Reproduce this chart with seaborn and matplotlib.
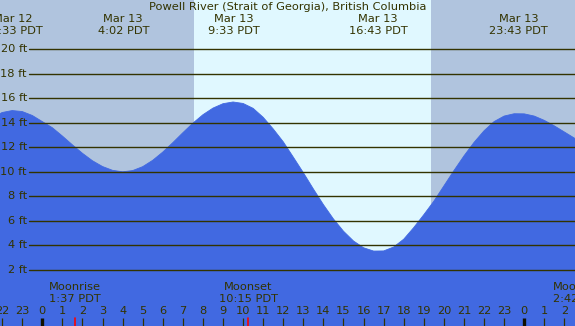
import numpy as np
import pandas as pd
import matplotlib
matplotlib.use("Agg")
import matplotlib.pyplot as plt
import matplotlib.transforms as mtransforms
import seaborn as sns

# ---------------- data ----------------
title = "Powell River (Strait of Georgia), British Columbia"

# hours relative to Mar 13 00:00 PDT, tide height in ft
hours = [-2.5, -2.0, -1.5, -1.0, -0.5, 0.0, 0.5, 1.0, 1.5, 2.0, 2.5, 3.0, 3.5,
         4.0, 4.5, 5.0, 5.5, 6.0, 6.5, 7.0, 7.5, 8.0, 8.5, 9.0, 9.5, 10.0,
         10.5, 11.0, 11.5, 12.0, 12.5, 13.0, 13.5, 14.0, 14.5, 15.0, 15.5,
         16.0, 16.5, 17.0, 17.5, 18.0, 18.5, 19.0, 19.5, 20.0, 20.5, 21.0,
         21.5, 22.0, 22.5, 23.0, 23.5, 24.0, 24.5, 25.0, 25.5, 26.0, 26.5, 27.0]
heights = [14.41, 14.84, 15.0, 14.92, 14.6, 14.1, 13.6, 12.92, 12.2, 11.51,
           10.9, 10.43, 10.12, 10.0, 10.1, 10.42, 10.94, 11.61, 12.38, 13.19,
           13.97, 14.66, 15.2, 15.56, 15.7, 15.58, 15.18, 14.45, 13.5, 12.45,
           11.2, 9.93, 8.6, 7.32, 6.15, 5.15, 4.35, 3.8, 3.53, 3.54, 3.86,
           4.5, 5.45, 6.5, 7.6, 8.85, 10.1, 11.3, 12.4, 13.35, 14.1, 14.55,
           14.74, 14.73, 14.55, 14.2, 13.75, 13.25, 12.75, 12.15]

extreme_hours = [-1.45, 4.033, 9.55, 16.717, 23.717]
extreme_dates = ["Mar 12", "Mar 13", "Mar 13", "Mar 13", "Mar 13"]
extreme_times = ["22:33 PDT", "4:02 PDT", "9:33 PDT", "16:43 PDT", "23:43 PDT"]

sunrise, sunset = 7.55, 19.36

moon_hours = [1.617, 10.25, 26.7]
moon_names = ["Moonrise", "Moonset", "Moonrise"]
moon_times = ["1:37 PDT", "10:15 PDT", "2:42 PDT"]

ft_levels = [2, 4, 6, 8, 10, 12, 14, 16, 18, 20]
tick_hours = list(range(-2, 27))
tick_labels = [str(h % 24) for h in tick_hours]

# ---------------- styling ----------------
W, H = 575, 326
night = "#b0c4de"
day = "#e0f8ff"
water = "#4169e1"
ink = "#333300"
fs = 8.2

sns.set_theme(style="white")
plt.rcParams["font.family"] = ["DejaVu Sans"]

fig = plt.figure(figsize=(W / 100, H / 100), dpi=100)
ax = fig.add_axes([0, 0, 1, 1])
ax.set_facecolor(night)

# pixel mapping: x = 42.3 + 20.08*h ; y = 49.3 + (20-ft)*12.25
px_per_h = 20.08
x0 = -42.3 / px_per_h
x1 = (W - 42.3) / px_per_h
y_top = 20 + 49.3 / 12.25
y_bot = 20 - (H - 49.3) / 12.25
ax.set_xlim(x0, x1)
ax.set_ylim(y_bot, y_top)

ax.axvspan(sunrise, sunset, color=day, lw=0, zorder=0)

df = pd.DataFrame({"hour": hours, "height": heights})
ax.fill_between(df["hour"], df["height"], y_bot - 5, color=water, lw=0, zorder=1)
sns.lineplot(data=df, x="hour", y="height", ax=ax, color=water, lw=0.6, zorder=2)

# grid lines with ft labels
trans_x_axes = mtransforms.blended_transform_factory(ax.transAxes, ax.transData)
for f in ft_levels:
    ax.plot([29 / W, 1], [f, f], transform=trans_x_axes, color=ink, lw=1.0, zorder=3)
    ax.text(27 / W, f, f"{f} ft", transform=trans_x_axes, ha="right", va="center",
            fontsize=fs, color=ink, zorder=4)

# text positions in pixel-based axes fraction
trans = mtransforms.blended_transform_factory(ax.transData, ax.transAxes)
def fy(ypix):
    return 1 - ypix / H

ax.text(0.5, fy(7), title, transform=ax.transAxes, ha="center", va="center",
        fontsize=fs, color=ink, zorder=5)
for h, d, t in zip(extreme_hours, extreme_dates, extreme_times):
    ax.text(h, fy(19.5), d, transform=trans, ha="center", va="center",
            fontsize=fs, color=ink, zorder=5)
    ax.text(h, fy(31.5), t, transform=trans, ha="center", va="center",
            fontsize=fs, color=ink, zorder=5)

for h, n, t in zip(moon_hours, moon_names, moon_times):
    ax.text(h, fy(287.5), n, transform=trans, ha="center", va="center",
            fontsize=fs, color=ink, zorder=5)
    ax.text(h, fy(299.5), t, transform=trans, ha="center", va="center",
            fontsize=fs, color=ink, zorder=5)
    ax.plot([h, h], [fy(318), 0], transform=trans, color="red", lw=1.2, zorder=5)

for h, lab in zip(tick_hours, tick_labels):
    ax.text(h, fy(311.5), lab, transform=trans, ha="center", va="center",
            fontsize=fs, color=ink, zorder=5)
    if h % 24 == 0:
        ax.plot([h, h], [fy(318), 0], transform=trans, color="#111100", lw=2.4,
                solid_capstyle="butt", zorder=5)
    else:
        ax.plot([h, h], [fy(318), 0], transform=trans, color=ink, lw=0.9,
                solid_capstyle="butt", zorder=5)

ax.set_xlabel("")
ax.set_ylabel("")
ax.set_xticks([])
ax.set_yticks([])
for s in ax.spines.values():
    s.set_visible(False)

fig.savefig("out.png", dpi=100)
